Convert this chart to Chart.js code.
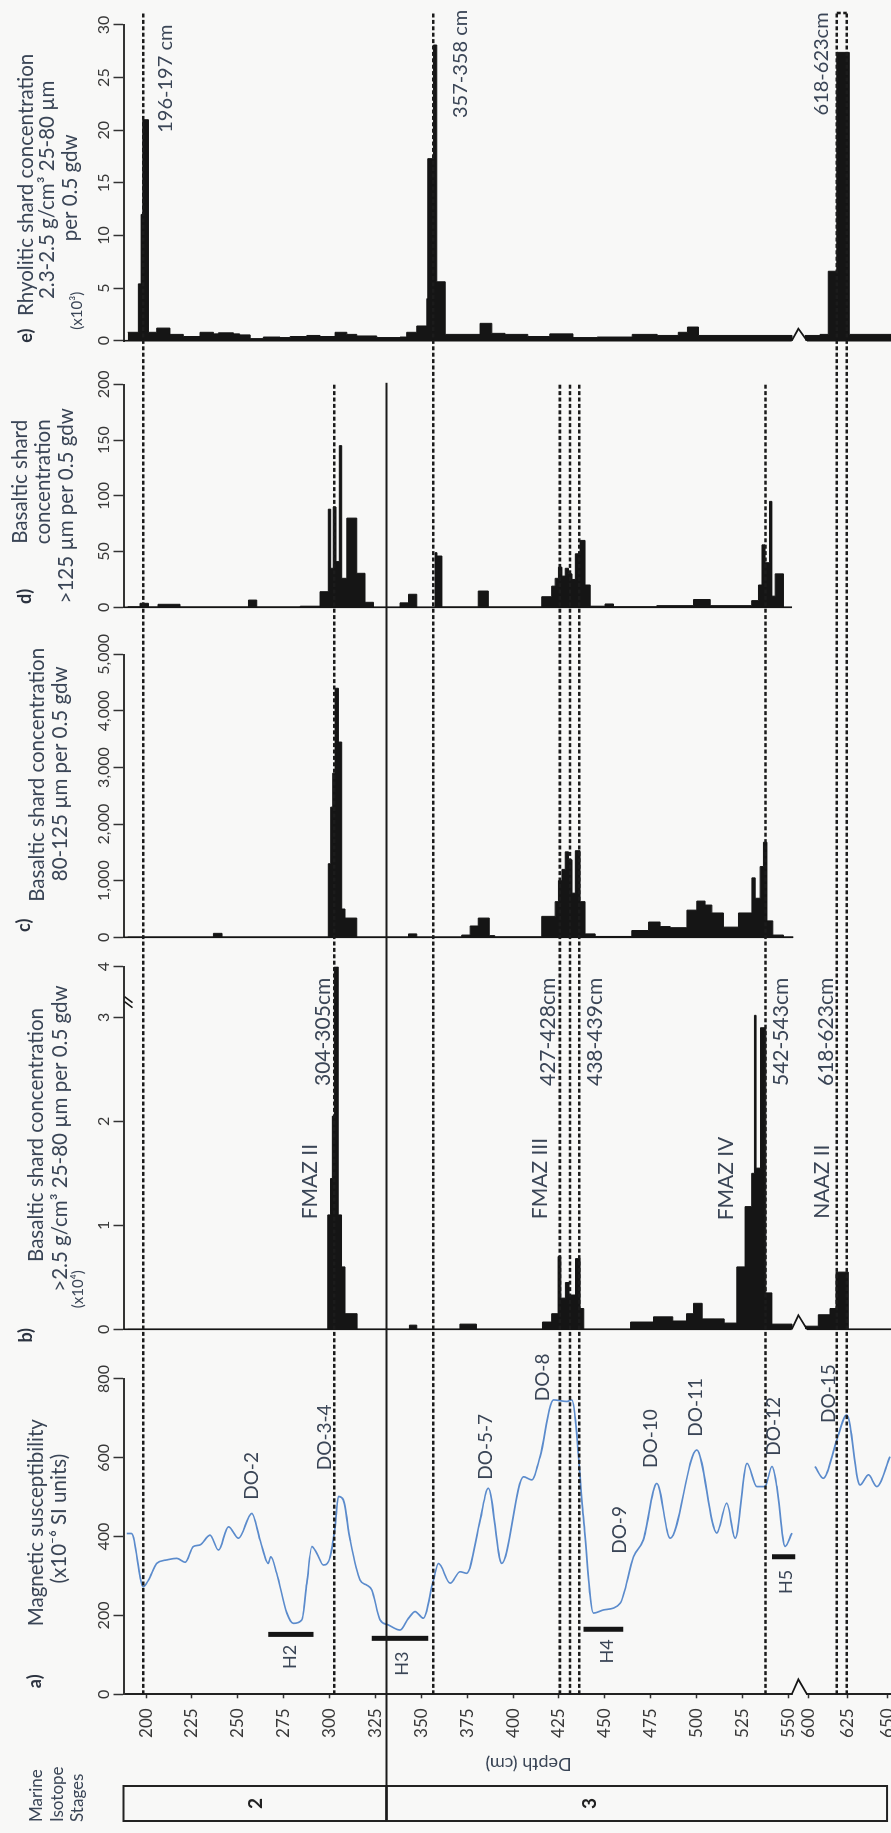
<!DOCTYPE html>
<html lang="en">
<head>
<meta charset="utf-8">
<title>Tephra shard concentrations and magnetic susceptibility</title>
<script src="https://cdn.jsdelivr.net/npm/chart.js@4.4.1/dist/chart.umd.min.js"></script>
<style>
  html, body { margin: 0; padding: 0; width: 891px; height: 1833px; overflow: hidden; background: #f8f8f7; }
  /* the core log is drawn with depth running down, then turned a quarter turn */
  #sheet { position: absolute; left: 0; top: 0; width: 1833px; height: 891px;
           transform-origin: 0 0; transform: translateY(1833px) rotate(-90deg); }
  #sheet canvas { display: block; }
</style>
</head>
<body>
<div id="sheet"><canvas id="core" width="1833" height="891"></canvas></div>
<script>
// ---------------- depth axis ----------------
const depthTicks = [200, 225, 250, 275, 300, 325, 350, 375, 400, 425, 450, 475, 500, 525, 550, 600, 625, 650];
const depthMin = 187.7;
const depthMax = 652.5;

// ---------------- a) magnetic susceptibility (x10^-6 SI) ----------------
const magDepth = [189.5, 192, 198.5, 201.3, 205.8, 211.3, 216.7, 221.3, 225.8, 229.4, 234.9, 239.4, 244.9, 250.3, 257.6,
  262.1, 266.6, 267.9, 271.2, 276.7, 280.3, 284.9, 287.6, 290.3, 293, 296.6, 300.3, 303, 304.8, 307.5, 311.2, 316.6,
  320.3, 323, 327.5, 332, 338.4, 343, 346.6, 351.1, 356.6, 359.3, 365.7, 371.1, 374.8, 382, 386.5, 393.8, 405.6,
  410.2, 414.7, 422, 429.3, 432, 438.3, 443.8, 449.2, 458.3, 465.6, 471, 478.3, 485.6, 500.1, 511, 516.4, 521,
  527.4, 532.8, 537.3, 541, 543.7, 548.2, 551.9, 580, 604.4, 609.7, 618.2, 624.5, 632.9, 638.2, 643.5, 651.9];
const magValue = [408, 408, 273, 290, 332, 341, 345, 335, 375, 379, 404, 366, 425, 396, 459,
  392, 332, 349, 307, 206, 180, 189, 282, 375, 358, 328, 349, 425, 502, 493, 392, 290,
  277, 265, 189, 176, 163, 193, 210, 193, 290, 332, 282, 311, 307, 442, 523, 332, 552,
  544, 603, 747, 743, 747, 451, 206, 214, 231, 349, 392, 535, 396, 620, 409, 485, 396,
  586, 527, 527, 578, 527, 375, 409, null, 578, 548, 645, 709, 531, 557, 527, 603];

// Heinrich events
const heinrichName = ['H2', 'H3', 'H4', 'H5'];
const heinrichTop = [266.6, 323, 438.3, 541];
const heinrichBase = [291.2, 353.8, 460, 553.7];
const heinrichLevel = [152, 142, 165, 349];

// ---------------- b) basaltic shards >2.5 g/cm3 25-80 um (x10^4), bin tops + final base ----------------
const bDepth = [190, 299, 300.5, 301.5, 302.6, 304.7, 306.5, 308.4, 315, 343.5, 347.5, 371, 380, 416, 421, 424.5, 426,
  428.5, 430.5, 434, 436.5, 438.5, 464, 476.5, 487, 494.5, 498.3, 503, 515, 521.9, 526.4, 530, 531.5, 532.4, 534.8,
  537.7, 541, 552];
const bValue = [0, 1.1, 1.45, 2.05, 4, 1.1, 0.6, 0.15, 0, 0.04, 0, 0.05, 0, 0.07, 0.15, 0.7, 0.3, 0.45, 0.33, 0.68,
  0.2, 0, 0.07, 0.12, 0.08, 0.15, 0.25, 0.1, 0.06, 0.6, 1.18, 1.5, 3.04, 1.55, 2.9, 0.35, 0.05];
const bLowDepth = [598, 606.5, 613.9, 617.7, 625.5, 652.5];
const bLowValue = [0.03, 0.14, 0.2, 0.55, 0];

// ---------------- c) basaltic shards 80-125 um ----------------
const cDepth = [190, 236.7, 241.4, 299.3, 300.6, 301.7, 303, 304.8, 306.6, 308.4, 314.8, 343, 347.5, 372, 376.6, 381,
  387, 390, 415.6, 422.9, 424.7, 426.6, 428.4, 430.2, 432.1, 433.9, 436.5, 439.2, 444.7, 464.7, 473.8, 480.1, 485.6,
  494.7, 500.1, 504.6, 508.3, 514.6, 522.8, 530.1, 531.9, 534.6, 536.4, 538.3, 541.5, 547.3, 552.6];
const cValue = [5, 70, 5, 1300, 2300, 2900, 4400, 3450, 500, 340, 5, 60, 5, 40, 200, 340, 30, 8, 370, 630, 1000,
  1200, 1510, 1370, 780, 1530, 630, 60, 15, 120, 270, 190, 170, 480, 640, 570, 430, 180, 430, 1050, 690, 1250, 1680,
  290, 40, 5];

// ---------------- d) basaltic shards >125 um ----------------
const dDepth = [190, 196.7, 201.3, 206.5, 218.5, 255.8, 260.3, 284, 294.8, 299.3, 300.6, 302, 303.5, 305.3, 306.6,
  309.4, 314.8, 319.3, 323.9, 338.4, 343, 347.5, 357.5, 358.5, 361.2, 381, 386.5, 415.6, 421, 422.9, 424.7, 426.6,
  428.4, 430.2, 432.1, 433.9, 436.5, 439.2, 442, 450.1, 454.7, 478.3, 498.3, 507.4, 530, 533.7, 535.6, 537.3, 539.7,
  541, 542.8, 547.3, 552];
const dValue = [0.5, 3.6, 0.3, 2.7, 0.3, 6.5, 0.3, 1, 14, 88, 35, 90, 41, 145, 26, 80, 30.5, 4.5, 0, 4, 11.7, 0, 49,
  46, 0.3, 14.6, 0.3, 9.5, 19, 26, 36, 28, 35, 30, 25, 48, 60, 20, 1, 3, 0.5, 1.5, 7, 1.5, 6, 20, 56, 40, 95, 10, 30, 0];

// ---------------- e) rhyolitic shards 2.3-2.5 g/cm3 25-80 um (x10^3) ----------------
const eDepth = [190, 195.8, 197.3, 198.2, 201.3, 205.8, 213, 220.3, 229.4, 236.7, 239.4, 247.6, 251, 256.7, 263.9,
  273, 278.5, 287.6, 294.8, 303, 309.4, 314.8, 325.7, 338.4, 342, 347.5, 353, 353.5, 356.6, 358.4, 363, 382, 388.4,
  395.6, 408, 420, 432.6, 445.8, 464.9, 478.5, 490, 495, 501, 552];
const eValue = [0.8, 5.4, 12, 21, 0.8, 1.2, 0.6, 0.4, 0.8, 0.65, 0.75, 0.65, 0.55, 0.2, 0.35, 0.3, 0.4, 0.5, 0.4,
  0.8, 0.6, 0.45, 0.3, 0.35, 0.8, 1.4, 4, 17.3, 28.1, 5.6, 0.6, 1.65, 0.7, 0.6, 0.4, 0.65, 0.3, 0.35, 0.6, 0.5, 0.8,
  1.3, 0.5];
const eLowDepth = [598, 607.6, 612.8, 618.2, 626.1, 652.5];
const eLowValue = [0.5, 0.6, 6.6, 27.4, 0.6];

// tephra horizons and stage boundary
const horizonDepth = [198.5, 302.5, 356.5, 425.5, 431, 436, 537.5, 618.2, 624.5];
const misStage = ['2', '3'];
const misTop = [187.7, 331];
const misBase = [331, 650];

// ---------------- layout of axes and annotations ----------------
const axisSections = {
  // relative pixel density of the upper core, the gap and the lower core
  depth: [{from: 187.7, to: 555, density: 1}, {from: 555, to: 595, density: 0.035}, {from: 595, to: 652.5, density: 0.861}],
  // broken value axis of panel b
  xb: [{from: 0, to: 3, density: 1}, {from: 3, to: 4, density: 0.487}]
};

// panel headings: [text, shift from the axis centre, line centre]
const panelTitles = {
  xa: [['Magnetic susceptibility', 14, 36.5], ['(x10⁻⁶ SI units)', 18, 59]],
  xb: [['Basaltic shard concentration', 13, 36], ['>2.5 g/cm³ 25-80 µm per 0.5 gdw', 9.5, 60]],
  xc: [['Basaltic shard concentration', 21, 37.5], ['80-125 µm per 0.5 gdw', 22, 60]],
  xd: [['Basaltic shard', 14, 20], ['concentration', 14, 43], ['>125 µm per 0.5 gdw', -10, 66]],
  xe: [['Rhyolitic shard concentration', -2, 26.5], ['2.3-2.5 g/cm³ 25-80 µm', -7, 47.5], ['per 0.5 gdw', -5, 70]]
};

const noteLayout = {
  horizonReach: ['xe', 'xd', 'xe', 'xd', 'xd', 'xd', 'xd', 'xe', 'xe'],
  misBox: {x0: 12, x1: 47},
  misLabelDepth: [260, 442],
  misTitle: {x: 11, y: [37, 57.5, 77.5], lines: ['Marine', 'Isotope', 'Stages']},
  depthTitle: {text: 'Depth (cm)', x: 69, y: 528.5},
  letters: [['a)', 'xa', 13, 35], ['b)', 'xb', -6, 26.5], ['c)', 'xc', 12, 24], ['d)', 'xd', 11, 25.5], ['e)', 'xe', 5, 26.5]],
  units: [['(x10³)', 'xe', 30, 77.5], ['(x10⁴)', 'xb', 40, 78]],
  doLabels: [['DO-2', 257.6, 554], ['DO-3-4', 297.3, 652], ['DO-5-7', 385, 628], ['DO-8', 416, 804], ['DO-9', 458, 417],
    ['DO-10', 475, 649], ['DO-11', 499.5, 728], ['DO-12', 542.2, 680], ['DO-15', 613, 763]],
  hLabels: [[278.5, 95], [339.8, 78], [451, 109], [549, 285]],
  bLabels: [['FMAZ II', 289.4, 1.42], ['304-305cm', 296.7, 2.86], ['FMAZ III', 415, 1.45], ['427-428cm', 419.3, 2.86],
    ['438-439cm', 444.7, 2.86], ['FMAZ IV', 516.3, 1.45], ['542-543cm', 546.3, 2.86], ['NAAZ II', 609.2, 1.42],
    ['618-623cm', 611.7, 2.86]],
  eLabels: [['196-197 cm', 210.4, 24.9], ['357-358 cm', 371.4, 26.3], ['618-623cm', 608.5, 26.3]]
};

const INK = '#151515';
const TEXT = '#3a4556';
const PAPER = '#f8f8f7';
const FONT = "Lato, 'Open Sans', 'DejaVu Sans', sans-serif";

Chart.defaults.font.family = FONT;
Chart.defaults.color = '#383838';

// Linear scale whose value range is split into sections of different pixel density
const LinearBase = Chart.LinearScale;
class SectionedScale extends LinearBase {
  _sections() {
    const secs = axisSections[this.id];
    let total = 0;
    const out = secs.map(s => {
      const len = (s.to - s.from) * s.density;
      const o = {from: s.from, to: s.to, start: total, len};
      total += len;
      return o;
    });
    out.forEach(o => { o.start /= total; o.len /= total; });
    return out;
  }
  getPixelForValue(value) {
    const secs = this._sections();
    let s = secs[0];
    for (const c of secs) { if (value >= c.from) s = c; }
    return this.getPixelForDecimal(s.start + (value - s.from) / (s.to - s.from) * s.len);
  }
  getValueForPixel(pixel) {
    const dec = this.getDecimalForPixel(pixel);
    const secs = this._sections();
    let s = secs[0];
    for (const c of secs) { if (dec >= c.start) s = c; }
    return s.from + (dec - s.start) / s.len * (s.to - s.from);
  }
}
SectionedScale.id = 'sectioned';
SectionedScale.defaults = Object.assign({}, LinearBase.defaults);
Chart.register(SectionedScale);

// ---------------- datasets ----------------
function histogram(depths, values) {
  const pts = values.map((v, i) => ({x: v, y: depths[i]}));
  pts.push({x: 0, y: depths[depths.length - 1]});
  return pts;
}
function histSet(axis, depths, values) {
  return {xAxisID: axis, yAxisID: 'depth', data: histogram(depths, values), stepped: 'after', fill: 'origin',
    backgroundColor: INK, borderColor: INK, borderWidth: 1, pointRadius: 0};
}
function baseLine(axis, from, to) {
  return {xAxisID: axis, yAxisID: 'depth', data: [{x: 0, y: from}, {x: 0, y: to}], borderColor: INK,
    borderWidth: 1.6, pointRadius: 0, fill: false, clip: false};
}

const datasets = [
  histSet('xe', eDepth, eValue), histSet('xe', eLowDepth, eLowValue),
  histSet('xd', dDepth, dValue),
  histSet('xc', cDepth, cValue),
  histSet('xb', bDepth, bValue), histSet('xb', bLowDepth, bLowValue),
  baseLine('xe', depthMin, 551.8), baseLine('xe', 599.4, depthMax),
  baseLine('xd', depthMin, 552), baseLine('xc', depthMin, 552.6),
  baseLine('xb', depthMin, 551.8), baseLine('xb', 599.4, depthMax),
  {xAxisID: 'xa', yAxisID: 'depth', data: magDepth.map((d, i) => ({x: magValue[i], y: d})),
    borderColor: '#5b8bcc', borderWidth: 1.7, pointRadius: 0, fill: false, cubicInterpolationMode: 'monotone'}
].concat(heinrichName.map((n, i) => ({
  label: n, xAxisID: 'xa', yAxisID: 'depth',
  data: [{x: heinrichLevel[i], y: heinrichTop[i]}, {x: heinrichLevel[i], y: heinrichBase[i]}],
  borderColor: INK, borderWidth: 5, borderCapStyle: 'butt', pointRadius: 0, fill: false
})));

// ---------------- axes ----------------
const AXIS_BAND = 123.5;
function panelAxis(min, max, step, weight, type) {
  return {
    type: type || 'linear', axis: 'x', position: 'top', stack: 'panels', stackWeight: weight,
    min, max,
    grid: {drawOnChartArea: false, tickLength: 10, tickColor: '#333', tickWidth: 1.5},
    border: {display: true, color: '#333', width: 2},
    ticks: {stepSize: step, font: {size: 16}, color: '#383838', padding: 0, maxRotation: 0, minRotation: 0, autoSkip: false},
    afterFit(s) { s.height = AXIS_BAND; s.paddingLeft = 0; s.paddingRight = 0; }
  };
}
function gapAxis(weight) {
  return {type: 'linear', axis: 'x', position: 'top', stack: 'panels', stackWeight: weight, display: false, min: 0, max: 1,
    afterFit(s) { s.height = AXIS_BAND; s.paddingLeft = 0; s.paddingRight = 0; }};
}

// top boxes are stacked from the last one listed, so the panels run e ... a here
const scales = {
  depth: {
    type: 'sectioned', axis: 'y', position: 'left', reverse: true, min: depthMin, max: depthMax,
    afterBuildTicks(s) { s.ticks = depthTicks.map(v => ({value: v})); },
    grid: {drawOnChartArea: false, tickLength: 4, tickColor: '#333', tickWidth: 1.5},
    border: {display: true, color: '#222', width: 2},
    ticks: {font: {size: 17}, color: '#383838', padding: 10, autoSkip: false},
    afterFit(s) { s.width = 138.7; s.paddingTop = 0; s.paddingBottom = 0; }
  },
  xe: panelAxis(0, 30, 5, 315.7),
  g4: gapAxis(43.6),
  xd: panelAxis(0, 200, 50, 223),
  g3: gapAxis(47),
  xc: panelAxis(0, 5000, 1000, 283),
  g2: gapAxis(29.4),
  xb: panelAxis(0, 4, 1, 362.6, 'sectioned'),
  g1: gapAxis(49.7),
  xa: panelAxis(0, 800, 200, 315.3)
};

// ---------------- annotations: titles, horizons, stages, labels, axis breaks ----------------
const coreNotes = {
  id: 'coreNotes',
  afterDraw(chart) {
    const {ctx, chartArea: area, scales: s} = chart;
    const D = s.depth;
    const py = d => D.getPixelForValue(d);
    const L = noteLayout;
    ctx.save();
    ctx.textBaseline = 'middle';

    // panel headings
    ctx.fillStyle = TEXT;
    ctx.textAlign = 'center';
    ctx.font = '20.5px ' + FONT;
    Object.keys(panelTitles).forEach(k => {
      const mid = (s[k].left + s[k].right) / 2;
      panelTitles[k].forEach(([t, dx, y]) => ctx.fillText(t, mid + dx, y));
    });
    // depth axis title, turned to run along the axis
    ctx.save();
    ctx.translate(L.depthTitle.x, L.depthTitle.y);
    ctx.rotate(-Math.PI / 2);
    ctx.font = '18px ' + FONT;
    ctx.fillText(L.depthTitle.text, 0, 0);
    ctx.restore();

    // marine isotope stage column
    ctx.strokeStyle = '#222';
    ctx.lineWidth = 2;
    misStage.forEach((st, i) => {
      const y0 = py(misTop[i]), y1 = py(misBase[i]);
      ctx.strokeRect(L.misBox.x0, y0, L.misBox.x1 - L.misBox.x0, y1 - y0);
    });
    ctx.fillStyle = '#222';
    ctx.font = 'bold 19px ' + FONT;
    misStage.forEach((st, i) => ctx.fillText(st, (L.misBox.x0 + L.misBox.x1) / 2, py(L.misLabelDepth[i])));
    ctx.fillStyle = TEXT;
    ctx.font = '17px ' + FONT;
    ctx.textAlign = 'left';
    L.misTitle.lines.forEach((t, i) => ctx.fillText(t, L.misTitle.x, L.misTitle.y[i]));

    // breaks between the upper and lower core sections
    const y1 = py(551.8), y2 = py(599.4), ym = (y1 + y2) / 2 - 1;
    ctx.fillStyle = PAPER;
    ctx.fillRect(area.left - 2, y1 + 1, 4.5, y2 - y1 - 2);
    ctx.strokeStyle = INK;
    ctx.lineWidth = 1.8;
    [[area.left, 15], [s.xb.getPixelForValue(0), 14], [s.xe.getPixelForValue(0), 12]].forEach(([x, h]) => {
      ctx.beginPath();
      ctx.moveTo(x, y1); ctx.lineTo(x + h, ym); ctx.lineTo(x, y2);
      ctx.stroke();
    });
    // broken value axis of panel b
    const bx = s.xb.getPixelForValue(3.3);
    ctx.lineWidth = 1.5;
    [-2.5, 2.5].forEach(o => {
      ctx.beginPath();
      ctx.moveTo(bx + o - 3, area.top + 9);
      ctx.lineTo(bx + o + 3, area.top + 1);
      ctx.stroke();
    });

    // tephra horizons
    ctx.strokeStyle = '#1b1b1b';
    ctx.lineWidth = 2.6;
    ctx.setLineDash([4, 2.4]);
    horizonDepth.forEach((d, i) => {
      const key = L.horizonReach[i];
      const end = s[key].right + (key === 'xe' ? 12 : 1.5);
      const y = py(d);
      ctx.beginPath(); ctx.moveTo(area.left, y); ctx.lineTo(end, y); ctx.stroke();
    });
    const capX = s.xe.right + 12;
    ctx.beginPath(); ctx.moveTo(capX, py(618.2)); ctx.lineTo(capX, py(624.5)); ctx.stroke();
    ctx.setLineDash([]);
    // stage 2/3 boundary
    ctx.lineWidth = 2;
    ctx.strokeStyle = '#1b1b1b';
    ctx.beginPath(); ctx.moveTo(L.misBox.x0, py(misBase[0])); ctx.lineTo(s.xd.right + 1.5, py(misBase[0])); ctx.stroke();

    // panel letters and unit notes
    ctx.textAlign = 'center';
    ctx.fillStyle = '#2c3340';
    ctx.font = 'bold 18px ' + FONT;
    L.letters.forEach(([t, k, dx, y]) => ctx.fillText(t, s[k].getPixelForValue(0) + dx, y));
    ctx.fillStyle = TEXT;
    ctx.font = '15px ' + FONT;
    L.units.forEach(([t, k, dx, y]) => ctx.fillText(t, s[k].getPixelForValue(0) + dx, y));

    // event labels
    ctx.font = '19px ' + FONT;
    L.doLabels.forEach(([t, d, v]) => ctx.fillText(t, s.xa.getPixelForValue(v), py(d)));
    ctx.font = '18px ' + FONT;
    L.hLabels.forEach(([d, v], i) => ctx.fillText(heinrichName[i], s.xa.getPixelForValue(v), py(d)));
    ctx.font = '21px ' + FONT;
    L.bLabels.forEach(([t, d, v]) => ctx.fillText(t, s.xb.getPixelForValue(v), py(d)));
    ctx.font = '20px ' + FONT;
    L.eLabels.forEach(([t, d, v]) => ctx.fillText(t, s.xe.getPixelForValue(v), py(d)));
    ctx.restore();
  }
};

new Chart(document.getElementById('core'), {
  type: 'line',
  data: {datasets},
  options: {
    indexAxis: 'y',
    responsive: false,
    animation: false,
    devicePixelRatio: 1,
    events: [],
    layout: {padding: {left: 0, top: 0, right: 25, bottom: 0}},
    plugins: {legend: {display: false}, tooltip: {enabled: false}},
    scales
  },
  plugins: [coreNotes]
});
</script>
</body>
</html>
